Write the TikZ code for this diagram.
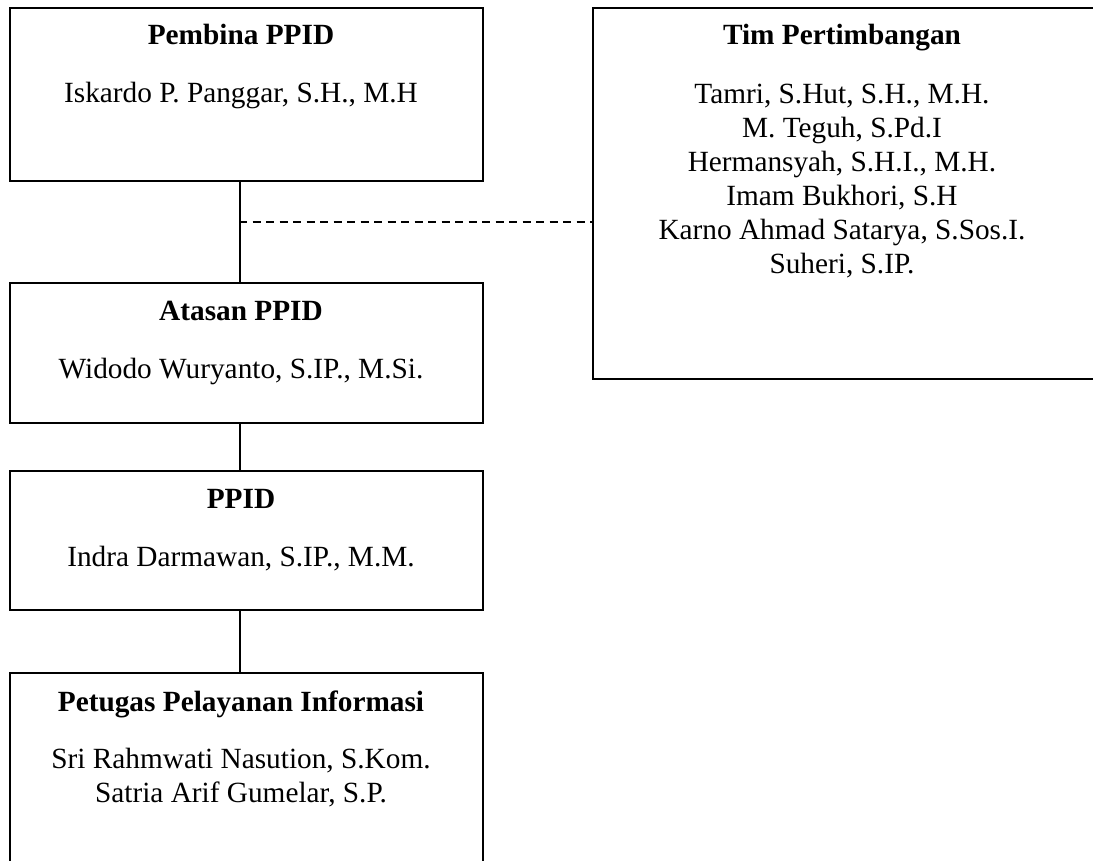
\documentclass[tikz,border=0pt]{standalone}
\usepackage{fontspec}
\setmainfont{Liberation Serif}
\begin{document}
\begin{tikzpicture}[x=1pt,y=-1pt,
  box/.style={draw, line width=1.8pt, inner sep=0pt},
  ttl/.style={font=\fontsize{29.3}{34}\selectfont\bfseries, anchor=base, inner sep=0pt},
  txt/.style={font=\fontsize{29.3}{34}\selectfont, anchor=base, inner sep=0pt, align=center},
  link/.style={line width=1.5pt},
  dlink/.style={line width=1.5pt, dash pattern=on 8pt off 5.5pt}]
\useasboundingbox (0,0) rectangle (1093,861);
\clip (0,0) rectangle (1093,861);
% boxes
\node[box, minimum width=473pt, minimum height=173pt, anchor=north west] (pembina) at (9,7) {};
\node[box, minimum width=506pt, minimum height=371pt, anchor=north west] (tim) at (592,7) {};
\node[box, minimum width=473pt, minimum height=140pt, anchor=north west] (atasan) at (9,282) {};
\node[box, minimum width=473pt, minimum height=139pt, anchor=north west] (ppid) at (9,470) {};
\node[box, minimum width=473pt, minimum height=220pt, anchor=north west] (petugas) at (9,672) {};
% texts (multi-line nodes: base = last line's baseline)
\node[ttl] (t1) at (241,45) {Pembina PPID};
\node[txt] (n1) at (241,103) {Iskardo P. Panggar, S.H., M.H};
\node[ttl] (t2) at (842,45) {Tim Pertimbangan};
\node[txt] (n2) at (842,273) {Tamri, S.Hut, S.H., M.H.\\M. Teguh, S.Pd.I\\Hermansyah, S.H.I., M.H.\\Imam Bukhori, S.H\\Karno Ahmad Satarya, S.Sos.I.\\Suheri, S.IP.};
\node[ttl] (t3) at (241,320) {Atasan PPID};
\node[txt] (n3) at (241,378) {Widodo Wuryanto, S.IP., M.Si.};
\node[ttl] (t4) at (241,508) {PPID};
\node[txt] (n4) at (241,566) {Indra Darmawan, S.IP., M.M.};
\node[ttl] (t5) at (241,711) {Petugas Pelayanan Informasi};
\node[txt] (n5) at (241,802) {Sri Rahmwati Nasution, S.Kom.\\Satria Arif Gumelar, S.P.};
% connectors
\coordinate (j) at (239,222);
\draw[link] ([xshift=-6.5pt]pembina.south) -- ([xshift=-6.5pt]atasan.north);
\draw[link] ([xshift=-6.5pt]atasan.south) -- ([xshift=-6.5pt]ppid.north);
\draw[link] ([xshift=-6.5pt]ppid.south) -- ([xshift=-6.5pt]petugas.north);
\draw[dlink] (j) -- (j -| tim.west);
\end{tikzpicture}
\end{document}
